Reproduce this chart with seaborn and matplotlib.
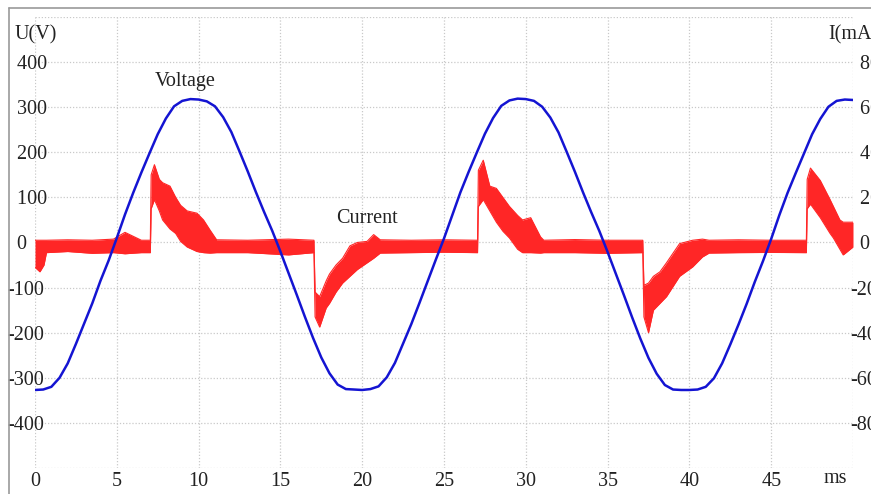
"""Oscilloscope-style capture: supply voltage and leakage current over 50 ms."""

import matplotlib
matplotlib.use("Agg")
import matplotlib.pyplot as plt
from matplotlib.lines import Line2D
import numpy as np
import seaborn as sns

# voltage, sampled every 0.5 ms from 0 to 50 ms
time_ms = [i * 0.5 for i in range(101)]
voltage_v = [
    -327, -326, -320, -300, -268, -225, -180, -135, -85, -40,
    10, 62, 110, 155, 198, 240, 275, 302, 314, 318,
    317, 313, 302, 278, 245, 202, 158, 112, 68, 26,
    -20, -68, -116, -165, -212, -255, -290, -315, -325, -326,
    -327, -325, -319, -299, -267, -224, -181, -134, -86, -38,
    9, 60, 111, 156, 199, 241, 276, 303, 315, 319,
    318, 314, 301, 277, 244, 201, 157, 111, 67, 25,
    -21, -69, -117, -166, -213, -256, -291, -316, -326, -327,
    -327, -326, -320, -301, -268, -226, -182, -136, -87, -41,
    8, 61, 110, 154, 197, 240, 274, 301, 314, 317,
    316,
]

# current envelope (upper / lower edge of the noisy trace), mA
current_t = [
    0.0, 0.3, 0.55, 0.7, 2.0, 3.5, 4.8, 5.5, 6.5, 7.05,
    7.1, 7.3, 7.6, 7.8, 8.25, 8.6, 8.9, 9.3, 9.9, 10.3, 10.7,
    11.1, 13.0, 15.5, 17.05, 17.12, 17.4, 17.8, 18.0, 18.4, 18.8,
    19.25, 19.7, 20.3, 20.7, 21.1, 23.0, 25.0, 27.05, 27.1, 27.4,
    27.8, 28.2, 28.6, 29.0, 29.5, 29.8, 30.3, 30.9, 31.1, 33.0, 35.0,
    37.15, 37.22, 37.5, 37.8, 38.2, 38.6, 39.4, 40.2, 40.8, 41.2, 43.0,
    45.0, 47.15, 47.2, 47.4, 48.0, 48.6, 48.8, 49.2, 49.4, 50.0,
]
current_hi = [
    1.0, 1.0, 1.0, 1.0, 1.2, 1.0, 1.5, 4.5, 1.0, 1.0,
    30, 34.5, 28, 26.5, 25, 20, 16.5, 14, 13, 10, 5.5,
    1.2, 1.0, 1.5, 1.0, -22, -24, -17, -14, -10, -7,
    -1.5, 0.0, 0.5, 3.5, 1.2, 1.0, 1.2, 1.0, 32, 36.5,
    25, 24, 20, 16, 12, 10, 11, 2.5, 1.0, 1.3, 1.0,
    1.0, -19, -18, -15, -13, -9, -0.5, 1.0, 1.5, 1.0, 1.2,
    1.0, 1.0, 28, 33, 27.5, 19, 16, 10, 9, 9,
]
current_lo = [
    -11, -13, -10, -4.5, -4.0, -4.8, -4.5, -5.0, -4.5, -4.5,
    15, 19, 14, 10, 6, 4, 0.5, -2, -4, -4.5, -4.7,
    -4.5, -4.5, -5.5, -4.5, -33, -37.5, -29, -27, -22, -18,
    -15, -12, -9, -7, -4.7, -4.5, -4.3, -4.5, 16, 19,
    14, 9, 5, 2, -3, -4.5, -4.5, -4.7, -4.5, -4.5, -4.8,
    -4.5, -33, -40, -30, -27, -24, -15, -10.8, -6.4, -4.7, -4.5,
    -4.4, -4.5, 15, 17, 11, 4, 2, -3, -5.5, -2,
]

time_ticks = [0, 5, 10, 15, 20, 25, 30, 35, 40, 45, 50]
time_labels = ["0", "5", "10", "15", "20", "25", "30", "35", "40", "45", ""]
volt_ticks = [-500, -400, -300, -200, -100, 0, 100, 200, 300, 400, 500]
volt_labels = ["", "-400", "-300", "-200", "-100", "  0",
               "  100", "  200", "  300", "  400", ""]
amp_ticks = [-100, -80, -60, -40, -20, 0, 20, 40, 60, 80, 100]
amp_labels = ["", "-80", "-60", "-40", "-20", "  0",
              "  20", "  40", "  60", "  80", ""]

BLUE = "#1414d2"
RED = "#ff2626"
TEXT = "#222222"
SERIF = "Liberation Serif"
FS = 14.5

# ---- figure -----------------------------------------------------------------

sns.set_style("white")
plt.rcParams["font.family"] = [SERIF, "DejaVu Serif"]

W, H = 871, 494
fig = plt.figure(figsize=(W / 100, H / 100), dpi=100)
ax = fig.add_axes([35 / W, 1 - 468 / H, 818 / W, 451 / H])

# current goes on the base axes (with the grid), voltage on the twin on top
ax.fill_between(current_t, current_lo, current_hi, color=RED, linewidth=0)
sns.lineplot(x=current_t, y=current_hi, ax=ax, color=RED, linewidth=0.8)
sns.lineplot(x=current_t, y=current_lo, ax=ax, color=RED, linewidth=0.8)

ax_v = ax.twinx()
sns.lineplot(x=time_ms, y=voltage_v, ax=ax_v, color=BLUE, linewidth=1.8)

ax.set_xlim(0, 50)
ax.set_ylim(-100, 100)
ax_v.set_ylim(-500, 500)

ax.set_xticks(time_ticks, time_labels)
ax.set_yticks(amp_ticks, amp_labels)
ax_v.set_yticks(volt_ticks, volt_labels)
ax.yaxis.tick_right()
ax_v.yaxis.tick_left()

for a in (ax, ax_v):
    a.set_xlabel("")
    a.set_ylabel("")
    for s in a.spines.values():
        s.set_visible(False)

ax.grid(True, color="#c9c9c9", linestyle=(0, (1, 1.5)), linewidth=0.9)
ax.set_axisbelow(True)

ax.tick_params(axis="x", length=0, pad=3, labelsize=FS, labelcolor=TEXT)
ax.tick_params(axis="y", length=0, pad=-2.2, labelsize=FS, labelcolor=TEXT)
ax_v.tick_params(axis="y", length=0, pad=20.2, labelsize=FS, labelcolor=TEXT)
for lab in ax_v.get_yticklabels():
    lab.set_horizontalalignment("left")

# trace names and axis units
ax_v.text(9.2, 356, "Voltage", ha="center", va="center", fontsize=FS, color=TEXT)
ax_v.text(20.3, 54, "Current", ha="center", va="center", fontsize=FS, color=TEXT)
ax.text(-20 / 818, 0.96, "U(V)", transform=ax.transAxes,
        ha="left", va="center", fontsize=FS, color=TEXT)
ax.text(793 / 818, 0.96, "I(mA)", transform=ax.transAxes,
        ha="left", va="center", fontsize=FS, color=TEXT)
ax.text(800 / 818, -10 / 451, "ms", transform=ax.transAxes,
        ha="center", va="center", fontsize=FS, color=TEXT)

# capture frame (left and top edges)
fig.add_artist(Line2D([9 / W, 9 / W], [0, 1 - 8 / H], color="#9a9a9a", linewidth=1.2))
fig.add_artist(Line2D([9 / W, 1], [1 - 8 / H, 1 - 8 / H], color="#9a9a9a", linewidth=1.2))

fig.savefig("out.png", dpi=100)
plt.close(fig)
